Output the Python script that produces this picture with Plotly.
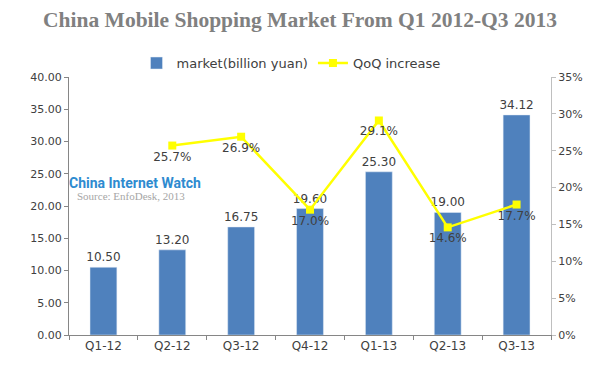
import plotly.graph_objects as go

quarters = ["Q1-12", "Q2-12", "Q3-12", "Q4-12", "Q1-13", "Q2-13", "Q3-13"]
market = [10.50, 13.20, 16.75, 19.60, 25.30, 19.00, 34.12]
qoq = [None, 0.257, 0.269, 0.170, 0.291, 0.146, 0.177]
qoq_labels = ["", "25.7%", "26.9%", "17.0%", "29.1%", "14.6%", "17.7%"]

tick_font = dict(family="DejaVu Sans, Open Sans, sans-serif", size=11, color="#404040")

fig = go.Figure()
fig.add_trace(go.Bar(
    x=quarters, y=market, name="market(billion yuan)",
    marker=dict(color="#4f81bd"), width=0.39,
    text=[f"{v:.2f}" for v in market], textposition="outside",
    textfont=dict(family="DejaVu Sans, sans-serif", size=12, color="#404040"),
    constraintext="none",
    cliponaxis=False,
))
fig.add_trace(go.Scatter(
    x=quarters, y=qoq, name="QoQ increase", yaxis="y2",
    mode="lines+markers+text",
    line=dict(color="#ffff00", width=2.5),
    marker=dict(symbol="square", size=8, color="#ffff00"),
    text=qoq_labels, textposition="bottom center",
    textfont=dict(family="DejaVu Sans, sans-serif", size=12, color="#404040"),
    cliponaxis=False,
))

fig.update_layout(
    width=600, height=370,
    margin=dict(l=61, r=57, t=69, b=43),
    paper_bgcolor="white", plot_bgcolor="white",
    title=dict(
        text="<b>China Mobile Shopping Market From Q1 2012-Q3 2013</b>",
        x=(300 - 8) / 600, xanchor="center", y=1 - 11 / 370, yanchor="middle",
        font=dict(family="Liberation Serif, DejaVu Serif, serif", size=21.5, color="#808080"),
    ),
    legend=dict(
        orientation="h", x=(291 - 8 - 61) / 482, xanchor="center", y=1.054, yanchor="middle",
        font=dict(family="DejaVu Sans, sans-serif", size=13, color="#404040"),
        bgcolor="rgba(0,0,0,0)",
    ),
    xaxis=dict(
        showline=True, linecolor="#868686", linewidth=1,
        ticks="outside", tickson="boundaries", ticklen=4, tickcolor="#868686",
        tickfont=dict(family="DejaVu Sans, sans-serif", size=12, color="#404040"),
        showgrid=False, automargin=False,
    ),
    yaxis=dict(
        range=[0, 40], dtick=5, tickformat=".2f",
        showline=True, linecolor="#868686", linewidth=1,
        ticks="outside", ticklen=4, tickcolor="#868686",
        tickfont=tick_font, showgrid=False, zeroline=False, automargin=False,
    ),
    yaxis2=dict(
        range=[0, 0.35], dtick=0.05, tickformat=".0%", overlaying="y", side="right",
        showline=True, linecolor="#bfbfbf", linewidth=1,
        ticks="outside", ticklen=4, tickcolor="#bfbfbf",
        tickfont=tick_font, showgrid=False, zeroline=False, automargin=False,
    ),
    bargap=0.6,
)

fig.add_annotation(
    text="<b>China Internet Watch</b>", xref="paper", yref="paper",
    x=-0.004, y=0.589, xanchor="left", yanchor="middle", showarrow=False,
    font=dict(family="Liberation Sans Narrow, Arial Narrow, Roboto, sans-serif", size=14, color="#2e8bd0"),
)
fig.add_annotation(
    text="Source: EnfoDesk, 2013", xref="paper", yref="paper",
    x=0.012, y=0.537, xanchor="left", yanchor="middle", showarrow=False,
    font=dict(family="Liberation Serif, serif", size=11, color="#a6a6a6"),
)

fig.write_html("out.html")
